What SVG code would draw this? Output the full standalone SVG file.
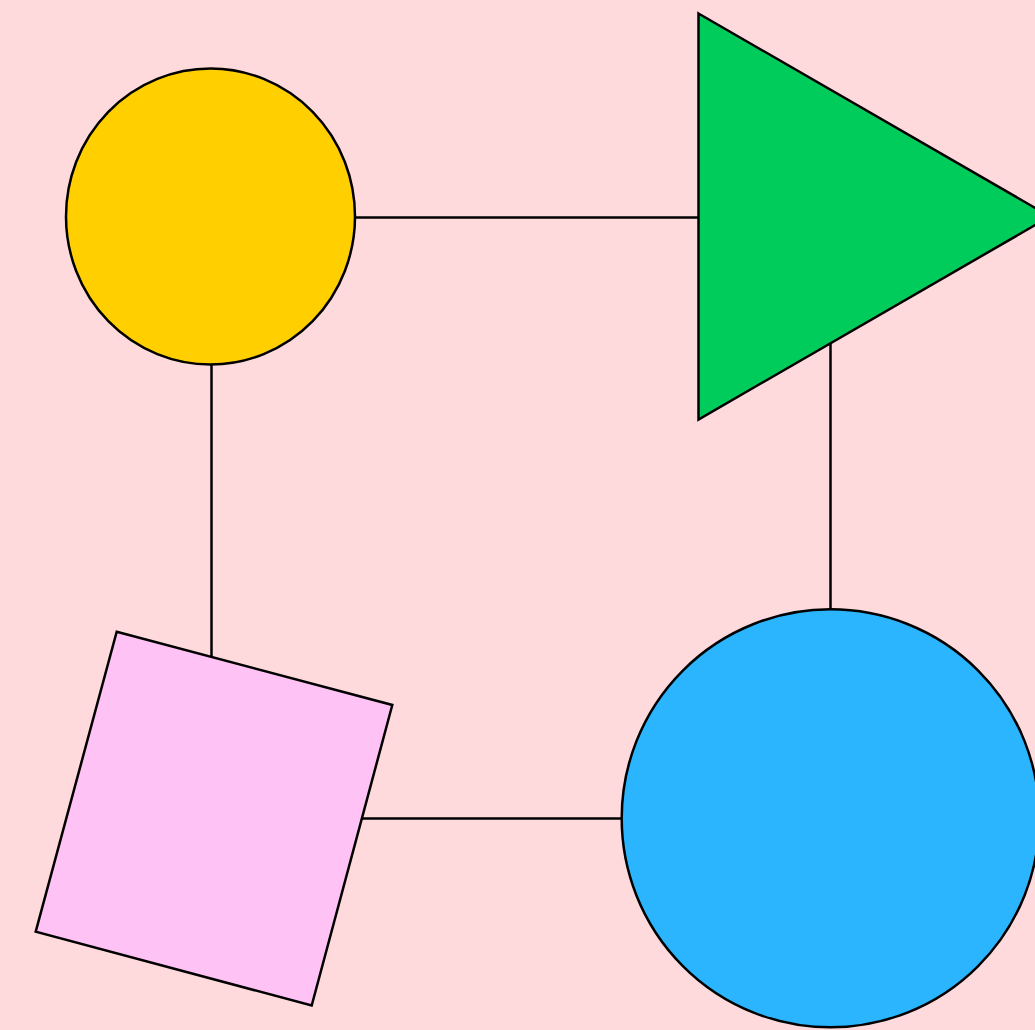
<svg xmlns="http://www.w3.org/2000/svg" width="1035" height="1030" viewBox="0 0 1035 1030">
<style>
.shape{stroke:#000;stroke-width:2.5;stroke-linejoin:miter}
.conn{stroke:#000;stroke-width:2.5;fill:none}
</style>
<rect x="0" y="0" width="1035" height="1030" fill="#FFDADD"/>
<g id="connectors">
<line class="conn" x1="355" y1="217.5" x2="698" y2="217.5"/>
<line class="conn" x1="211.5" y1="364" x2="211.5" y2="660"/>
<line class="conn" x1="830.5" y1="340" x2="830.5" y2="610"/>
<line class="conn" x1="360" y1="818.5" x2="622" y2="818.5"/>
</g>
<g id="yellow-circle">
<ellipse class="shape" cx="210.5" cy="216.5" rx="144.5" ry="148" fill="#FFCF00"/>
</g>
<g id="green-triangle">
<polygon class="shape" points="698.5,13.5 1050,216.5 698.5,419.5" fill="#00CC5C"/>
</g>
<g id="pink-square">
<polygon class="shape" points="116.7,631.7 392.3,705 311.7,1005.5 35.7,931.7" fill="#FFC2F5"/>
</g>
<g id="blue-circle">
<ellipse class="shape" cx="830.5" cy="818.3" rx="208.8" ry="209" fill="#2BB5FF"/>
</g>
</svg>
